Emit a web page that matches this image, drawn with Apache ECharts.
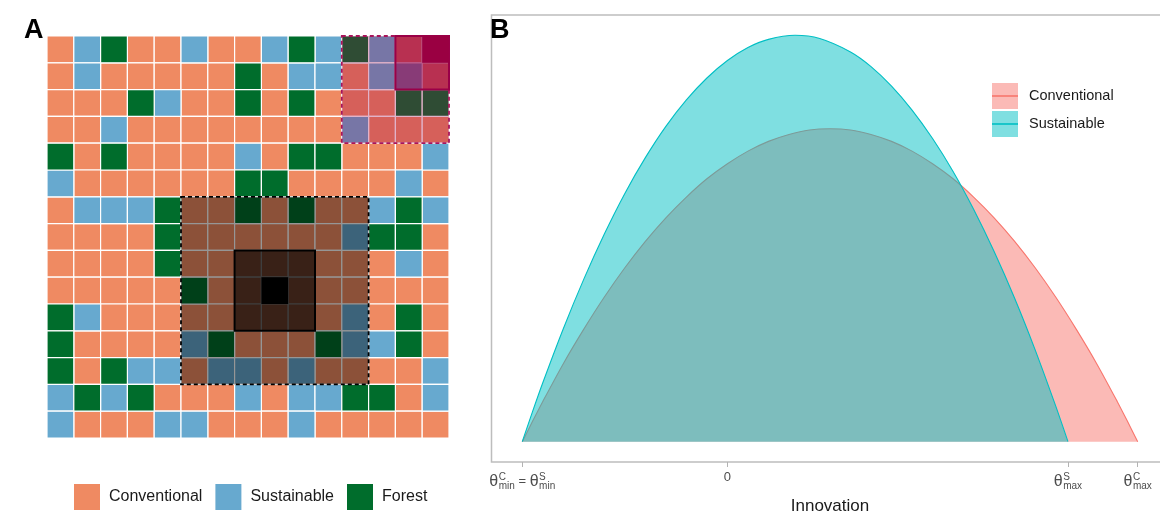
<!DOCTYPE html>
<html><head><meta charset="utf-8">
<script src="https://cdn.jsdelivr.net/npm/echarts@6/dist/echarts.min.js"></script>
<style>html,body{margin:0;padding:0;background:#fff}#c{width:1160px;height:512px}</style>
</head><body><div id="c"></div>
<script>
// ---------- data ----------
const categories = ['Conventional', 'Sustainable', 'Forest'];
// 0 = Conventional, 1 = Sustainable, 2 = Forest (row 0 = top)
const landUse = [
  [0,1,2,0,0,1,0,0,1,2,1,2,1,0,0],
  [0,1,0,0,0,0,0,2,0,1,1,0,1,1,0],
  [0,0,0,2,1,0,0,2,0,2,0,0,0,2,2],
  [0,0,1,0,0,0,0,0,0,0,0,1,0,0,0],
  [2,0,2,0,0,0,0,1,0,2,2,0,0,0,1],
  [1,0,0,0,0,0,0,2,2,0,0,0,0,1,0],
  [0,1,1,1,2,0,0,2,0,2,0,0,1,2,1],
  [0,0,0,0,2,0,0,0,0,0,0,1,2,2,0],
  [0,0,0,0,2,0,0,0,0,0,0,0,0,1,0],
  [0,0,0,0,0,2,0,0,0,0,0,0,0,0,0],
  [2,1,0,0,0,0,0,0,0,0,0,1,0,2,0],
  [2,0,0,0,0,1,2,0,0,0,2,1,1,2,0],
  [2,0,2,1,1,0,1,1,0,1,0,0,0,0,1],
  [1,2,1,2,0,0,0,1,0,1,1,2,2,0,1],
  [1,0,0,0,1,1,0,0,0,1,0,0,0,0,0]
];
// neighbourhoods: [col, row, size]  (outer, inner, centre)
const neighbourhoodCentral = [[5,6,7],[7,8,3],[8,9,1]];
const neighbourhoodCorner  = [[11,0,4],[13,0,2],[14,0,1]];

const seriesNamesB = ['Conventional', 'Sustainable'];
const conventionalCurve = [
  [-1,0],[-0.95,0.050],[-0.9,0.099],[-0.8,0.192],[-0.7,0.277],[-0.6,0.356],[-0.5,0.428],
  [-0.4,0.493],[-0.3,0.551],[-0.2,0.602],[-0.1,0.647],[0,0.684],[0.1,0.715],[0.2,0.739],
  [0.3,0.756],[0.4,0.767],[0.5,0.770],[0.6,0.767],[0.7,0.756],[0.8,0.739],[0.9,0.715],
  [1.0,0.684],[1.1,0.647],[1.2,0.602],[1.3,0.551],[1.4,0.493],[1.5,0.428],[1.6,0.356],
  [1.7,0.277],[1.8,0.192],[1.9,0.099],[1.95,0.050],[2,0]
];
const sustainableCurve = [
  [-1,0],[-0.95,0.074],[-0.9,0.145],[-0.8,0.278],[-0.7,0.400],[-0.6,0.511],[-0.5,0.611],
  [-0.4,0.699],[-0.3,0.776],[-0.2,0.841],[-0.1,0.895],[0,0.938],[0.1,0.970],[0.2,0.990],
  [0.33,1.000],[0.45,0.992],[0.6,0.959],[0.7,0.923],[0.8,0.875],[0.9,0.816],[1.0,0.746],
  [1.1,0.665],[1.2,0.572],[1.3,0.468],[1.4,0.353],[1.5,0.226],[1.6,0.088],[1.66,0]
];
const tickValues = [-1, 0, 1.66, 2];
const tickLabels = [
  [{b:'θ'},{sup:'C',sub:'min'},{b:' = '},{b:'θ'},{sup:'S',sub:'min'}],
  [{b:'0'}],
  [{b:'θ'},{sup:'S',sub:'max'}],
  [{b:'θ'},{sup:'C',sub:'max'}]
];

// ---------- styles ----------
const FONT = '"Liberation Sans", Arial, Helvetica, sans-serif';
const cellColors = ['#EF8A62', '#67A9CF', '#006D2C'];
const lineColors = ['#F8766D', '#00BFC4'];
const fillColors = ['rgba(248,118,109,0.5)', 'rgba(0,191,196,0.5)'];
const centralStyles = [
  {fill:'rgba(0,0,0,0.41)', stroke:'#000', lineWidth:1.8, lineDash:[4,3]},
  {fill:'rgba(0,0,0,0.59)', stroke:'#000', lineWidth:2},
  {fill:'#000'}
];
const cornerStyles = [
  {fill:'rgba(154,0,72,0.30)', stroke:'#A8145A', lineWidth:1.8, lineDash:[4,3]},
  {fill:'rgba(154,0,72,0.50)', stroke:'#9A0048', lineWidth:2},
  {fill:'rgb(154,0,66)'}
];

function cellRender(params, api) {
  const c = api.value(0), r = api.value(1);
  const p = api.coord([c, r]), q = api.coord([c + 1, r + 1]);
  return {type:'rect', shape:{x:p[0], y:p[1], width:q[0]-p[0], height:q[1]-p[1]},
          style:{fill: api.visual('color'), stroke:'#ffffff', lineWidth:1.2}};
}
function overlayRender(styles) {
  return function (params, api) {
    const c = api.value(0), r = api.value(1), n = api.value(2);
    const p = api.coord([c, r]), q = api.coord([c + n, r + n]);
    return {type:'rect', shape:{x:p[0], y:p[1], width:q[0]-p[0], height:q[1]-p[1]},
            style: Object.assign({}, styles[params.dataIndex])};
  };
}

const cellSeries = categories.map((name, k) => {
  const data = [];
  landUse.forEach((row, r) => row.forEach((v, c) => { if (v === k) data.push([c, r]); }));
  return {type:'custom', name, xAxisIndex:0, yAxisIndex:0, data, renderItem: cellRender,
          itemStyle:{color: cellColors[k]}, encode:{x:0, y:1}, silent:true, z:2};
});

const chart = echarts.init(document.getElementById('c'), null, {renderer:'canvas'});
const option = {
  animation: false,
  backgroundColor: '#ffffff',
  title: [
    {text:'A', left:24, top:17, padding:0, textStyle:{fontSize:27, fontWeight:'bold', color:'#000', fontFamily:FONT}},
    {text:'B', left:490, top:17, padding:0, textStyle:{fontSize:27, fontWeight:'bold', color:'#000', fontFamily:FONT}}
  ],
  grid: [
    {left:47, top:36, width:402, height:402, show:false, outerBoundsMode:'none'},
    {left:491.5, top:15, width:677, height:447, show:true, borderColor:'#bdbdbd', borderWidth:1.5,
     backgroundColor:'rgba(0,0,0,0)', outerBoundsMode:'none'}
  ],
  xAxis: [
    {type:'value', gridIndex:0, min:0, max:15, show:false},
    {type:'value', gridIndex:1, min:-1.15, max:2.15,
     axisLine:{show:false, onZero:false}, splitLine:{show:false},
     axisTick:{show:true, length:5, customValues: tickValues, lineStyle:{color:'#b3b3b3', width:1}},
     axisLabel:{show:false},
     name:'Innovation', nameLocation:'middle', nameGap:36,
     nameTextStyle:{fontSize:17, color:'#1a1a1a', fontFamily:FONT}}
  ],
  yAxis: [
    {type:'value', gridIndex:0, min:0, max:15, inverse:true, show:false},
    {type:'value', gridIndex:1, min:-0.05, max:1.05, axisLine:{show:false, onZero:false}, axisTick:{show:false},
     axisLabel:{show:false}, splitLine:{show:false}}
  ],
  legend: [
    {data: categories.map((n, i) => ({name:n, itemStyle:{color:cellColors[i], borderWidth:0}})),
     left:74, top:484, orient:'horizontal', icon:'rect', itemWidth:26, itemHeight:26, itemGap:13,
     padding:0, selectedMode:false,
     textStyle:{fontSize:16, color:'#1a1a1a', fontFamily:FONT, padding:[0,0,0,4]}},
    {data: seriesNamesB.map((n, i) => ({name:n, itemStyle:{color:fillColors[i], borderWidth:0}})),
     left:992, top:83, orient:'vertical', icon:'rect', itemWidth:26, itemHeight:26, itemGap:2,
     padding:0, selectedMode:false,
     textStyle:{fontSize:14.5, color:'#1a1a1a', fontFamily:FONT, padding:[0,0,0,6]}},
    {data: seriesNamesB.map((n, i) => ({name:n, itemStyle:{color:lineColors[i], borderWidth:0}})),
     left:992, top:83, orient:'vertical', icon:'rect', itemWidth:26, itemHeight:1.6, itemGap:2,
     padding:0, selectedMode:false,
     textStyle:{fontSize:14.5, lineHeight:26, color:'rgba(0,0,0,0)', fontFamily:FONT, padding:[0,0,0,6]}}
  ],
  series: cellSeries.concat([
    {type:'custom', name:'central', xAxisIndex:0, yAxisIndex:0, data: neighbourhoodCentral,
     renderItem: overlayRender(centralStyles), encode:{x:0, y:1}, silent:true, z:3},
    {type:'custom', name:'corner', xAxisIndex:0, yAxisIndex:0, data: neighbourhoodCorner,
     renderItem: overlayRender(cornerStyles), encode:{x:0, y:1}, silent:true, z:3},
    {type:'line', name: seriesNamesB[0], xAxisIndex:1, yAxisIndex:1, data: conventionalCurve,
     smooth:0.3, showSymbol:false, silent:true, z:2,
     lineStyle:{color:lineColors[0], width:1.1}, itemStyle:{color:lineColors[0]},
     areaStyle:{color:lineColors[0], opacity:0.5}},
    {type:'line', name: seriesNamesB[1], xAxisIndex:1, yAxisIndex:1, data: sustainableCurve,
     smooth:0.3, showSymbol:false, silent:true, z:4,
     lineStyle:{color:lineColors[1], width:1.1}, itemStyle:{color:lineColors[1]},
     areaStyle:{color:lineColors[1], opacity:0.5}}
  ])
};
chart.setOption(option);

// ---------- tick labels with super/subscripts, placed via the axis scale ----------
const ctx = document.createElement('canvas').getContext('2d');
function tw(t, size) { ctx.font = size + 'px ' + FONT; return ctx.measureText(t).width; }
const SYM = 16, TXT = 13, SCR = 10, LABEL_COLOR = '#4d4d4d';
const axisBottom = chart.convertToPixel({yAxisIndex:1}, -0.05);
const yMid = axisBottom + 19.5;
const graphics = [];
tickValues.forEach((v, i) => {
  const cx = chart.convertToPixel({xAxisIndex:1}, v);
  const parts = tickLabels[i];
  let w = 0;
  const pieces = parts.map(p => {
    let pw, size;
    if (p.sup !== undefined) { pw = Math.max(tw(p.sup, SCR), tw(p.sub, SCR)) + 0.5; }
    else { size = p.b === 'θ' ? SYM : TXT; pw = tw(p.b, size); }
    const pc = {p, x:w, size};
    w += pw;
    return pc;
  });
  const x0 = cx - w / 2;
  pieces.forEach(pc => {
    const base = {fontFamily: FONT, fill: LABEL_COLOR, align:'left', verticalAlign:'middle'};
    if (pc.p.sup !== undefined) {
      graphics.push({type:'text', x:x0 + pc.x + 0.5, y:yMid - 4.5, silent:true,
        style:Object.assign({text:pc.p.sup, fontSize:SCR}, base)});
      graphics.push({type:'text', x:x0 + pc.x + 0.5, y:yMid + 5, silent:true,
        style:Object.assign({text:pc.p.sub, fontSize:SCR}, base)});
    } else {
      const dy = (parts.length === 1) ? -4 : 0;
      graphics.push({type:'text', x:x0 + pc.x, y:yMid + dy, silent:true,
        style:Object.assign({text:pc.p.b, fontSize:pc.size}, base)});
    }
  });
});
chart.setOption({graphic: graphics});
</script>
</body></html>
